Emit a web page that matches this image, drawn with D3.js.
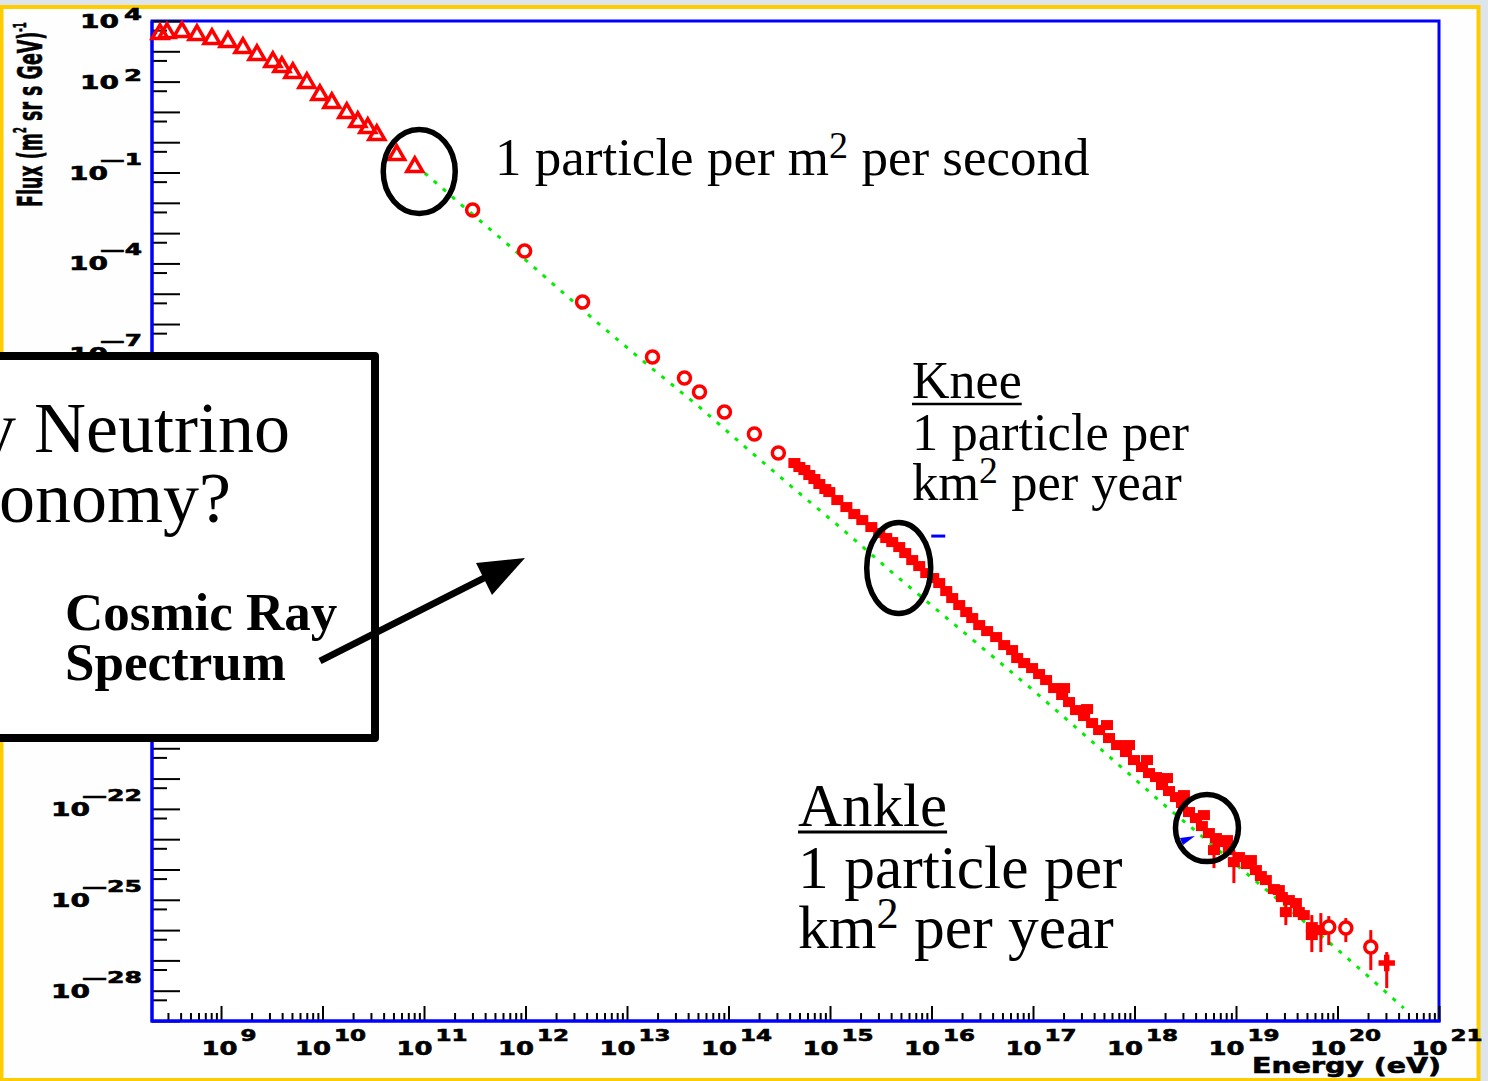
<!DOCTYPE html>
<html>
<head>
<meta charset="utf-8">
<script src="https://cdn.jsdelivr.net/npm/d3@7"></script>
<style>
  html, body { margin: 0; padding: 0; background: #dde4ec; }
  svg { display: block; }
  text { white-space: pre; }
</style>
</head>
<body>
<div id="chart"></div>
<script>

// ---- data (log10 of energy in eV, log10 of flux) ----

// low energy points, open triangles
const lowLogE    = [8.399, 8.468, 8.615, 8.763, 8.911, 9.068, 9.216, 9.354, 9.511, 9.600, 9.708, 9.846, 9.974, 10.092, 10.239, 10.348, 10.446, 10.535, 10.731, 10.909];
const lowLogFlux = [3.571, 3.604, 3.637, 3.538, 3.406, 3.307, 3.109, 2.878, 2.647, 2.482, 2.284, 1.954, 1.558, 1.294, 0.964, 0.667, 0.469, 0.238, -0.422, -0.818];

// direct measurements, open circles
const midLogE    = [11.479, 11.991, 12.562, 13.251, 13.566, 13.714, 13.960, 14.255, 14.491];
const midLogFlux = [-2.238, -3.591, -5.274, -7.089, -7.782, -8.244, -8.904, -9.630, -10.257];

// air shower data, filled squares
const bandLogE = [14.649, 14.698, 14.747, 14.796, 14.846, 14.895, 14.954, 14.993, 15.072, 15.161,
  15.239, 15.318, 15.407, 15.485, 15.554, 15.613, 15.682, 15.741, 15.810, 15.879,
  15.948, 16.017, 16.076, 16.145, 16.204, 16.273, 16.342, 16.401, 16.470, 16.548,
  16.637, 16.716, 16.794, 16.844, 16.913, 16.991, 17.060, 17.129, 17.208, 17.287,
  17.355, 17.424, 17.503, 17.582, 17.651, 17.749, 17.828, 17.916, 17.995, 18.074,
  18.143, 18.212, 18.271, 18.340, 18.409, 18.468, 18.537, 18.605, 18.664, 18.733,
  18.802, 18.851, 18.930, 19.029, 19.107, 19.196, 19.245, 19.294, 19.373, 19.452,
  19.521, 19.590, 19.668, 19.747, 19.816,
  17.306, 17.533, 17.729, 17.946, 18.123, 18.320, 18.487, 18.684, 18.911, 19.147, 19.422, 19.619];
const bandLogFlux = [-10.587, -10.719, -10.818, -10.983, -11.115, -11.280, -11.446, -11.545, -11.809, -12.040,
  -12.271, -12.469, -12.700, -12.898, -13.063, -13.195, -13.360, -13.558, -13.789, -13.987,
  -14.218, -14.383, -14.548, -14.812, -15.043, -15.274, -15.505, -15.703, -15.934, -16.132,
  -16.330, -16.594, -16.759, -17.023, -17.188, -17.353, -17.551, -17.749, -18.013, -18.244,
  -18.475, -18.739, -18.937, -19.168, -19.399, -19.663, -19.894, -20.125, -20.389, -20.620,
  -20.818, -20.950, -21.214, -21.412, -21.610, -21.808, -22.105, -22.303, -22.567, -22.798,
  -22.963, -23.095, -23.359, -23.590, -23.821, -24.019, -24.217, -24.349, -24.646, -24.910,
  -25.009, -25.108, -25.505, -25.901, -26.000,
  -18.013, -18.706, -19.234, -19.894, -20.389, -20.983, -21.545, -22.205, -23.030, -23.689, -24.680, -25.406];

// highest energy points with error bars
const errLogE    = [18.783, 18.979, 19.491, 19.747, 19.836, 19.914, 20.082, 20.328, 20.485];
const errLogFlux = [-23.360, -23.756, -25.406, -26.165, -26.000, -25.901, -25.934, -26.561, -27.089];
const errLogHi   = [-23.030, -23.359, -25.009, -25.505, -25.439, -25.538, -25.604, -26.000, -26.726];
const errLogLo   = [-23.954, -24.449, -25.835, -26.726, -26.726, -26.495, -26.396, -27.320, -27.914];
const errShape   = ['square', 'square', 'square', 'square', 'square', 'circle', 'circle', 'circle', 'cross'];

// power law fit, green dots
const fitLogE    = [11.007, 11.371, 11.844, 12.306, 12.759, 13.241, 13.714, 14.176, 14.649, 15.121, 15.584,
  16.056, 16.539, 17.011, 17.474, 17.926, 18.271, 19.029, 19.442, 19.914, 20.279, 20.653];
const fitLogFlux = [-1.017, -2.073, -3.426, -4.779, -6.099, -7.452, -8.739, -10.092, -11.446, -12.766, -14.119,
  -15.439, -16.792, -18.112, -19.465, -20.785, -21.809, -23.921, -25.076, -26.396, -27.452, -28.574];

// blue marks
const blueLogE    = [16.027, 18.517];
const blueLogFlux = [-12.997, -23.030];

// tick labels (exponents) that are visible; the others sit behind the title box
const xTickLabels = [9, 10, 11, 12, 13, 14, 15, 16, 17, 18, 19, 20, 21];
const yTickLabels = [4, 2, -1, -4, -7, -22, -25, -28];

// circled regions: log E, log flux
const circleLogE    = [10.953, 15.677, 18.714];
const circleLogFlux = [-0.967, -14.053, -22.634];

// ---- chart ----
const W = 1488, H = 1081;
const plotLeft = 152, plotRight = 1439, plotTop = 21, plotBottom = 1021;

const svg = d3.select('#chart')
  .append('svg')
    .attr('width', W)
    .attr('height', H);

const x = d3.scaleLog()
  .domain([Math.pow(10, 8.32), 1e21])
  .range([plotLeft, plotRight]);

const y = d3.scaleLog()
  .domain([1e-29, 1e4])
  .range([plotBottom, plotTop]);

const px = le => x(Math.pow(10, le));
const py = lf => y(Math.pow(10, lf));

// yellow page border
svg.append('rect')
  .attr('x', 1.5).attr('y', 7)
  .attr('width', 1477).attr('height', 1073)
  .attr('fill', '#fefefe')
  .attr('stroke', '#ffcc00')
  .attr('stroke-width', 4);

// plot frame
svg.append('rect')
  .attr('x', plotLeft).attr('y', plotTop)
  .attr('width', plotRight - plotLeft).attr('height', plotBottom - plotTop)
  .attr('fill', '#fff')
  .attr('stroke', '#0000ff')
  .attr('stroke-width', 3);

// ticks
const yMajor = d3.range(-29, 5).map(e => Math.pow(10, e));
const yMinor = d3.range(-29, 4).map(e => 5 * Math.pow(10, e));
const xMajor = xTickLabels.map(e => Math.pow(10, e));
const xMinor = [];
d3.range(8, 21).forEach(e => {
  d3.range(2, 10).forEach(k => {
    const v = k * Math.pow(10, e);
    if (v > x.domain()[0] && v < 1e21) xMinor.push(v);
  });
});

function tickStyle(g) {
  g.select('.domain').remove();
  g.selectAll('line').attr('stroke', '#000').attr('stroke-width', 2);
}

svg.append('g').attr('transform', `translate(${plotLeft},0)`)
  .call(d3.axisLeft(y).tickValues(yMajor).tickSize(-28).tickFormat(''))
  .call(tickStyle);
svg.append('g').attr('transform', `translate(${plotLeft},0)`)
  .call(d3.axisLeft(y).tickValues(yMinor).tickSize(-15).tickFormat(''))
  .call(tickStyle);
svg.append('g').attr('transform', `translate(0,${plotBottom})`)
  .call(d3.axisBottom(x).tickValues(xMajor).tickSize(-15).tickFormat(''))
  .call(tickStyle);
svg.append('g').attr('transform', `translate(0,${plotBottom})`)
  .call(d3.axisBottom(x).tickValues(xMinor).tickSize(-8).tickFormat(''))
  .call(tickStyle);

// left and bottom axis lines over the ticks
svg.append('line').attr('x1', plotLeft).attr('x2', plotLeft).attr('y1', plotTop).attr('y2', plotBottom + 1.5)
  .attr('stroke', '#0000ff').attr('stroke-width', 3);
svg.append('line').attr('x1', plotLeft).attr('x2', plotRight + 1.5).attr('y1', plotBottom).attr('y2', plotBottom)
  .attr('stroke', '#0000ff').attr('stroke-width', 3);

// tick labels
const labels = svg.append('g')
  .attr('font-family', '"DejaVu Sans", sans-serif')
  .attr('font-weight', 'bold')
  .attr('fill', '#000')
  .attr('stroke', '#000')
  .attr('stroke-width', 0.6);

function expString(e) {
  return e < 0 ? '\u2014' + Math.abs(e) : String(e);
}

yTickLabels.forEach(e => {
  const ty = py(e);
  const neg = e < 0;
  const nd = String(Math.abs(e)).length;
  const expW = (neg ? 24 : 0) + nd * 18;
  labels.append('text')
    .attr('x', 142 - expW).attr('y', neg ? ty - 8 : ty - 1)
    .attr('font-size', 16)
    .attr('textLength', expW).attr('lengthAdjust', 'spacingAndGlyphs')
    .text(expString(e));
  const baseRight = neg ? 142 - expW + 8 : 142 - expW - 5;
  labels.append('text')
    .attr('x', baseRight - 39).attr('y', ty + 7)
    .attr('font-size', 19)
    .attr('textLength', 39).attr('lengthAdjust', 'spacingAndGlyphs')
    .text('10');
});

xTickLabels.forEach(e => {
  const tx = px(e);
  const nd = String(e).length;
  const expW = nd * 16;
  const total = 36 + 3 + expW;
  const x0 = tx + 8 - total / 2;
  labels.append('text')
    .attr('x', x0).attr('y', 1055)
    .attr('font-size', 19)
    .attr('textLength', 36).attr('lengthAdjust', 'spacingAndGlyphs')
    .text('10');
  labels.append('text')
    .attr('x', x0 + 39).attr('y', 1041)
    .attr('font-size', 16)
    .attr('textLength', expW).attr('lengthAdjust', 'spacingAndGlyphs')
    .text(String(e));
});

// axis titles
labels.append('text')
  .attr('x', 1252).attr('y', 1073)
  .attr('font-size', 21)
  .attr('textLength', 189).attr('lengthAdjust', 'spacingAndGlyphs')
  .text('Energy (eV)');

const yTitle = labels.append('text')
  .attr('font-size', 34);
yTitle.append('tspan').text('Flux (m');
yTitle.append('tspan').attr('font-size', 17).attr('dy', -16).text('2');
yTitle.append('tspan').attr('dy', 16).text(' sr s GeV)');
yTitle.append('tspan').attr('font-size', 17).attr('dy', -16).text('-1');
const yTitleW = yTitle.node().getBBox().width;
yTitle.attr('transform', `translate(42,207) rotate(-90) scale(${185 / yTitleW},1)`);

// ---- marks ----
const fit = fitLogE.map((d, i) => [d, fitLogFlux[i]]);
svg.append('path')
  .datum(fit)
  .attr('d', d3.line().x(d => px(d[0])).y(d => py(d[1])))
  .attr('fill', 'none')
  .attr('stroke', '#00ee00')
  .attr('stroke-width', 3)
  .attr('stroke-dasharray', '4,8');

const red = '#ff0000';

svg.append('g').selectAll('path')
  .data(lowLogE.map((d, i) => [d, lowLogFlux[i]]))
  .join('path')
    .attr('transform', d => `translate(${px(d[0])},${py(d[1])})`)
    .attr('d', d3.symbol().type(d3.symbolTriangle).size(110))
    .attr('fill', 'none')
    .attr('stroke', red)
    .attr('stroke-width', 3.5);

svg.append('g').selectAll('circle')
  .data(midLogE.map((d, i) => [d, midLogFlux[i]]))
  .join('circle')
    .attr('cx', d => px(d[0]))
    .attr('cy', d => py(d[1]))
    .attr('r', 6)
    .attr('fill', 'none')
    .attr('stroke', red)
    .attr('stroke-width', 3.5);

svg.append('g').selectAll('rect')
  .data(bandLogE.map((d, i) => [d, bandLogFlux[i]]))
  .join('rect')
    .attr('x', d => px(d[0]) - 6)
    .attr('y', d => py(d[1]) - 5)
    .attr('width', 12)
    .attr('height', 10)
    .attr('fill', red);

const errData = errLogE.map((d, i) => ({ e: d, f: errLogFlux[i], hi: errLogHi[i], lo: errLogLo[i], s: errShape[i] }));
const errG = svg.append('g');
errG.selectAll('line')
  .data(errData)
  .join('line')
    .attr('x1', d => px(d.e)).attr('x2', d => px(d.e))
    .attr('y1', d => py(d.hi)).attr('y2', d => py(d.lo))
    .attr('stroke', red).attr('stroke-width', 3);
errData.forEach(d => {
  const cx = px(d.e), cy = py(d.f);
  if (d.s === 'square') {
    errG.append('rect').attr('x', cx - 6).attr('y', cy - 5).attr('width', 12).attr('height', 10).attr('fill', red);
  } else if (d.s === 'circle') {
    errG.append('circle').attr('cx', cx).attr('cy', cy).attr('r', 6)
      .attr('fill', '#fff').attr('stroke', red).attr('stroke-width', 3.5);
  } else {
    errG.append('path')
      .attr('transform', `translate(${cx},${cy})`)
      .attr('d', d3.symbol().type(d3.symbolCross).size(150))
      .attr('fill', red);
  }
});

const blueG = svg.append('g');
blueG.append('rect')
  .attr('x', px(blueLogE[0]) - 3).attr('y', py(blueLogFlux[0]) - 1.5)
  .attr('width', 14).attr('height', 3).attr('fill', '#0000ff');
blueG.append('path')
  .attr('d', `M${px(blueLogE[1]) - 7},${py(blueLogFlux[1]) - 2} L${px(blueLogE[1]) + 8},${py(blueLogFlux[1]) - 4} L${px(blueLogE[1]) - 4},${py(blueLogFlux[1]) + 5} Z`)
  .attr('fill', '#0000ff');

// ---- annotations ----
const circleR = [[36, 42], [32, 45.5], [31.5, 33.5]];
svg.append('g').selectAll('ellipse')
  .data(circleLogE.map((d, i) => [d, circleLogFlux[i], circleR[i]]))
  .join('ellipse')
    .attr('cx', d => px(d[0]))
    .attr('cy', d => py(d[1]))
    .attr('rx', d => d[2][0])
    .attr('ry', d => d[2][1])
    .attr('fill', 'none')
    .attr('stroke', '#000')
    .attr('stroke-width', 5.5);

const notes = svg.append('g')
  .attr('font-family', '"Liberation Serif", "Times New Roman", serif')
  .attr('fill', '#000');

function noteLine(x0, y0, size, base, supTxt, rest) {
  const t = notes.append('text').attr('x', x0).attr('y', y0).attr('font-size', size).text(base);
  if (supTxt) {
    t.append('tspan').attr('font-size', size * 0.72).attr('dy', -size * 0.33).text(supTxt);
    t.append('tspan').attr('dy', size * 0.33).text(rest);
  }
  return t;
}

function underline(t, x0, yy, w) {
  const len = t.node().getComputedTextLength();
  notes.append('line').attr('x1', x0).attr('x2', x0 + len).attr('y1', yy).attr('y2', yy)
    .attr('stroke', '#000').attr('stroke-width', w);
}

noteLine(495, 175, 53, '1 particle per m', '2', ' per second');

const knee = noteLine(912, 398, 52, 'Knee');
underline(knee, 912, 404, 2.5);
noteLine(912, 450, 52.5, '1 particle per');
noteLine(912, 500, 52.5, 'km', '2', ' per year');

const ankle = noteLine(798, 826, 61, 'Ankle');
underline(ankle, 798, 832, 3);
noteLine(798, 888, 61.5, '1 particle per');
noteLine(798, 948, 61.5, 'km', '2', ' per year');

// title box
svg.append('rect')
  .attr('x', -10).attr('y', 356)
  .attr('width', 385).attr('height', 382)
  .attr('fill', '#fff')
  .attr('stroke', '#000')
  .attr('stroke-width', 8)
  .attr('stroke-linejoin', 'round');

notes.raise();
notes.append('text').attr('x', 290).attr('y', 452).attr('font-size', 72)
  .attr('text-anchor', 'end').text('Why Neutrino');
notes.append('text').attr('x', 231).attr('y', 522).attr('font-size', 72)
  .attr('text-anchor', 'end').text('Astronomy?');
notes.append('text').attr('x', 65).attr('y', 630).attr('font-size', 53)
  .attr('font-weight', 'bold').text('Cosmic Ray');
notes.append('text').attr('x', 65).attr('y', 680).attr('font-size', 53)
  .attr('font-weight', 'bold').text('Spectrum');

// arrow
svg.append('line')
  .attr('x1', 320).attr('y1', 661).attr('x2', 492).attr('y2', 574)
  .attr('stroke', '#000').attr('stroke-width', 7);
svg.append('path')
  .attr('d', 'M525,558 L476,563 L492,595 Z')
  .attr('fill', '#000');

</script>
</body>
</html>
